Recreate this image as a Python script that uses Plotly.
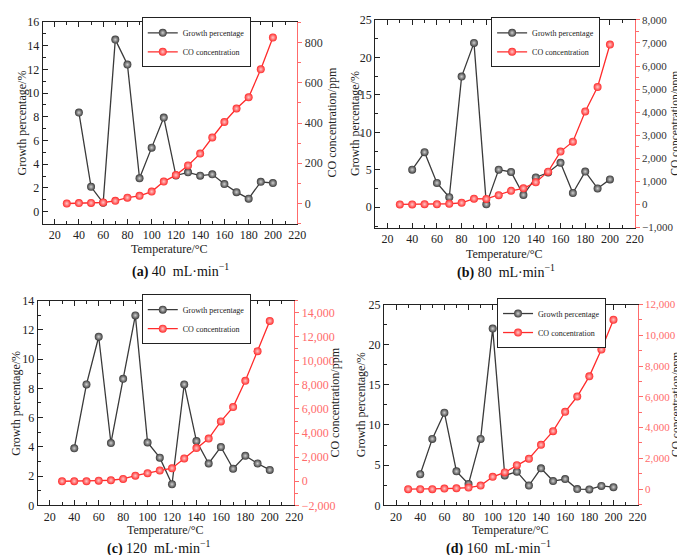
"""Growth percentage and CO concentration vs temperature at four flow rates."""

import plotly.graph_objects as go

W, H = 685, 555

temp_growth = [40, 50, 60, 70, 80, 90, 100, 110, 120, 130, 140, 150, 160, 170, 180, 190, 200]
temp_co = [30, 40, 50, 60, 70, 80, 90, 100, 110, 120, 130, 140, 150, 160, 170, 180, 190, 200]

growth_a = [8.35, 2.1, 0.75, 14.5, 12.4, 2.82, 5.4, 7.93, 3.05, 3.32, 3.04, 3.15, 2.33, 1.65, 1.1, 2.52, 2.42]
co_a = [0, 2, 3, 5, 13, 29, 38, 59, 109, 141, 189, 248, 328, 405, 472, 528, 667, 825]

growth_b = [5.02, 7.35, 3.24, 1.34, 17.43, 21.93, 0.39, 5.02, 4.71, 1.64, 3.98, 4.63, 5.93, 1.9, 4.76, 2.51, 3.72]
co_b = [0, 0, 10, 10, 30, 70, 250, 240, 400, 590, 700, 960, 1420, 2290, 2720, 4030, 5090, 6930]

growth_c = [3.9, 8.27, 11.53, 4.26, 8.65, 12.99, 4.3, 3.26, 1.44, 8.27, 4.39, 2.86, 3.99, 2.5, 3.39, 2.86, 2.42]
co_c = [0, 0, 0, 50, 80, 190, 460, 670, 890, 1080, 1890, 2750, 3540, 4970, 6160, 8340, 10800, 13310]

growth_d = [3.87, 8.27, 11.53, 4.23, 2.66, 8.27, 22.0, 3.71, 4.19, 2.46, 4.6, 3.02, 3.27, 2.02, 1.98, 2.42, 2.26]
co_d = [0, 0, 0, 40, 60, 100, 230, 800, 1090, 1560, 1980, 2880, 3770, 5030, 6020, 7330, 9070, 11010]

captions = ["<b>(a)</b> 40  mL·min<sup>−1</sup>", "<b>(b)</b> 80  mL·min<sup>−1</sup>",
            "<b>(c)</b> 120  mL·min<sup>−1</sup>", "<b>(d)</b> 160  mL·min<sup>−1</sup>"]

FONT = "Liberation Serif"
GREY = "#3a3a3a"
RED = "#ff2b2b"
AXRED = "#ff6b6b"
INK = "#222222"

# panel boxes in pixels: left, right, top, bottom; legend = (right edge, centre y)
panels = [
    dict(box=(35, 293, 7, 214), growth=growth_a, co=co_a,
         yl=dict(range=[-1, 16], dtick=2), yr=dict(range=[-100, 903], dtick=200, tickformat="d"),
         rcolor="#333333", rsize=12, legend=(246, 28), cap=(175, 262),
         xt=240, ylt=14, yrt=(328, 12)),
    dict(box=(372, 635, 5, 218), growth=growth_b, co=co_b,
         yl=dict(range=[-2.7, 25], dtick=5), yr=dict(range=[-1000, 8000], dtick=1000, tickformat=",d"),
         rcolor="#333333", rsize=11, legend=(600, 28), cap=(505, 263),
         xt=245, ylt=351, yrt=(677, 11.5)),
    dict(box=(30, 290, 293, 503), growth=growth_c, co=co_c,
         yl=dict(range=[0, 14], dtick=2), yr=dict(range=[-2000, 15000], dtick=2000, tickformat=",d"),
         rcolor=AXRED, rsize=12, legend=(246, 312), cap=(152, 546),
         xt=528, ylt=8, yrt=(331, 12)),
    dict(box=(381, 638, 297, 503), growth=growth_d, co=co_d,
         yl=dict(range=[0, 25], dtick=5), yr=dict(range=[-1050, 12000], dtick=2000, tickformat=",d"),
         rcolor=AXRED, rsize=11, legend=(606, 316), cap=(497, 546),
         xt=528, ylt=358, yrt=(678, 11.5)),
]

fig = go.Figure()
layout = dict(
    width=W, height=H, margin=dict(l=0, r=0, t=0, b=0),
    paper_bgcolor="white", plot_bgcolor="white",
    font=dict(family=FONT, size=12, color=INK),
    showlegend=True, annotations=[],
)


def label(text, x, y, angle=0, size=12, color=INK):
    return dict(text=text, x=x / W, y=1 - y / H, xref="paper", yref="paper",
                xanchor="center", yanchor="middle", showarrow=False, textangle=angle,
                font=dict(family=FONT, size=size, color=color))


for i, p in enumerate(panels):
    l, r, t, b = p["box"]
    xdom = [l / W, r / W]
    ydom = [1 - b / H, 1 - t / H]
    n = i + 1
    xname = "x" if n == 1 else f"x{n}"
    yl_name = f"y{2 * n - 1}" if n > 1 else "y"
    yr_name = f"y{2 * n}"
    leg = "legend" if n == 1 else f"legend{n}"

    fig.add_trace(go.Scatter(
        x=temp_growth, y=p["growth"], xaxis=xname, yaxis=yl_name,
        mode="lines+markers", name="Growth percentage", legend=leg,
        line=dict(color=GREY, width=1.3),
        marker=dict(color=GREY, size=8, gradient=dict(type="radial", color="#d0d0d0")),
    ))
    fig.add_trace(go.Scatter(
        x=temp_co, y=p["co"], xaxis=xname, yaxis=yr_name,
        mode="lines+markers", name="CO concentration", legend=leg,
        line=dict(color=RED, width=1.3),
        marker=dict(color=RED, size=8, gradient=dict(type="radial", color="#ffc8c8")),
    ))

    xkey = "xaxis" if n == 1 else f"xaxis{n}"
    ylkey = "yaxis" if n == 1 else f"yaxis{2 * n - 1}"
    yrkey = f"yaxis{2 * n}"

    layout[xkey] = dict(
        domain=xdom, anchor=yl_name, range=[10, 220], dtick=20, tick0=0,
        showline=True, linecolor=INK, linewidth=1, mirror="ticks",
        ticks="inside", ticklen=5, tickcolor=INK,
        minor=dict(ticks="inside", ticklen=3, dtick=10, tickcolor=INK),
        showgrid=False, zeroline=False,
        tickfont=dict(family=FONT, size=12, color=INK),
    )
    layout[ylkey] = dict(
        domain=ydom, anchor=xname, range=p["yl"]["range"], dtick=p["yl"]["dtick"], tick0=0,
        showline=True, linecolor=INK, linewidth=1,
        ticks="inside", ticklen=5, tickcolor=INK,
        minor=dict(ticks="inside", ticklen=3, dtick=p["yl"]["dtick"] / 2, tickcolor=INK),
        showgrid=False, zeroline=False,
        tickfont=dict(family=FONT, size=12, color=INK),
    )
    layout[yrkey] = dict(
        domain=ydom, anchor=xname, overlaying=yl_name, side="right",
        range=p["yr"]["range"], dtick=p["yr"]["dtick"], tick0=0, tickformat=p["yr"]["tickformat"],
        showline=True, linecolor=AXRED, linewidth=1.2,
        ticks="outside", ticklen=4, tickcolor=AXRED,
        minor=dict(ticks="outside", ticklen=3, dtick=p["yr"]["dtick"] / 2, tickcolor=AXRED),
        showgrid=False, zeroline=False,
        tickfont=dict(family=FONT, size=p["rsize"], color=p["rcolor"]),
    )

    lx, ly = p["legend"]
    layout[leg] = dict(
        x=lx / W, y=1 - ly / H, xanchor="right", yanchor="middle",
        bgcolor="white", bordercolor=INK, borderwidth=1,
        font=dict(family=FONT, size=8, color=INK),
        itemwidth=30, tracegroupgap=0,
    )

    ymid = (t + b) / 2
    rx, rs = p["yrt"]
    layout["annotations"] += [
        label("Temperature/°C", (l + r) / 2, p["xt"]),
        label("Growth percentage/%", p["ylt"], ymid, angle=-90),
        label("CO concentration/ppm", rx, ymid, angle=-90, size=rs),
        label(captions[i], p["cap"][0], p["cap"][1], size=14, color="#111111"),
    ]

fig.update_layout(**layout)
fig.write_html("out.html")
